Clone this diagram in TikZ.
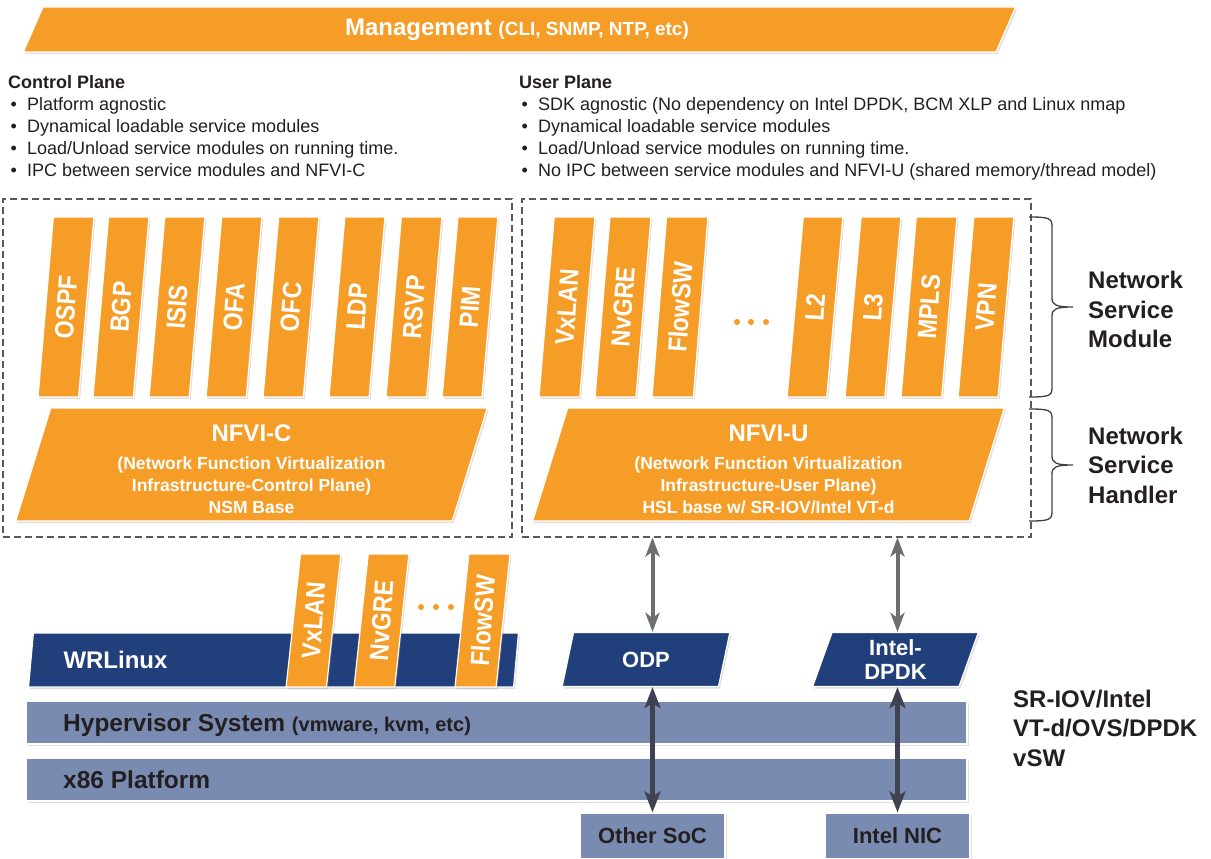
\documentclass[tikz,border=0pt]{standalone}
\usepackage{fontspec}
\setmainfont{Liberation Sans}
\newfontfamily\narrowsf[FakeStretch=0.88]{Liberation Sans}
\usetikzlibrary{shapes.geometric,arrows.meta,shadows}

\definecolor{nsorange}{RGB}{246,157,40}
\definecolor{nsnavy}{RGB}{33,63,122}
\definecolor{nsslate}{RGB}{122,139,178}
\definecolor{nsink}{RGB}{35,31,32}
\definecolor{arrowgrey}{RGB}{109,110,112}
\definecolor{arrowdark}{RGB}{64,66,82}

\newcommand\bul{\hspace*{2.5pt}\makebox[16.5pt][l]{•}}
\newcommand\uptext[1]{\raisebox{-.5\height}{\rotatebox{86}{#1}}}
\newcommand\nsbrace[2]{%
  \pgfmathsetmacro\bmid{(#1+#2)/2}
  \draw[bracepen] (1029,#1) .. controls (1048,#1) and (1052,#1+1) .. (1052,#1+9)
    -- (1052,\bmid-9) .. controls (1052,\bmid-2) and (1056,\bmid) .. (1073,\bmid)
    .. controls (1056,\bmid) and (1052,\bmid+2) .. (1052,\bmid+9)
    -- (1052,#2-9) .. controls (1052,#2-1) and (1048,#2) .. (1029,#2);
}

\tikzset{
  softshadow/.style={drop shadow={shadow xshift=1.5pt,shadow yshift=-2pt,opacity=.25}},
  slab/.style={trapezium, trapezium stretches=true, draw=white, line width=1.2pt,
    inner sep=0pt, text=white, font=\bfseries, softshadow},
  mgmtbar/.style={slab, fill=nsorange, trapezium left angle=71.6, trapezium right angle=108.4,
    minimum width=995pt, minimum height=45pt},
  svcmod/.style={slab, fill=nsorange, trapezium left angle=85.55, trapezium right angle=94.45,
    minimum width=56pt, text height=90pt, text depth=90pt,
    font=\narrowsf\bfseries\fontsize{26.5pt}{28pt}\selectfont},
  vswmod/.style={svcmod, trapezium left angle=84.4, trapezium right angle=95.6,
    minimum width=55pt, text height=66.5pt, text depth=66.5pt},
  nfvi/.style={slab, fill=nsorange, trapezium left angle=76.6, trapezium right angle=103.4,
    minimum width=472pt, minimum height=113pt, align=center,
    font=\bfseries\fontsize{17.5pt}{22pt}\selectfont},
  osbar/.style={slab, fill=nsnavy, trapezium left angle=76.5, trapezium right angle=103.5,
    minimum height=54pt, font=\bfseries\fontsize{22pt}{23.7pt}\selectfont},
  hwbar/.style={rectangle, fill=nsslate, draw=white, line width=1.2pt, inner sep=0pt,
    minimum width=941pt, minimum height=43pt, softshadow},
  hwbox/.style={hwbar, minimum width=145pt, minimum height=46pt, text=nsink,
    font=\bfseries\fontsize{22pt}{24pt}\selectfont},
  bartext/.style={anchor=base west, inner sep=0pt, text=nsink,
    font=\bfseries\fontsize{24.5pt}{26pt}\selectfont},
  planebox/.style={rectangle, draw=black!65, line width=1.1pt, dash pattern=on 7pt off 4pt,
    inner sep=0pt, minimum width=509pt, minimum height=338pt},
  notes/.style={anchor=north west, align=left, inner sep=0pt, text=nsink,
    font=\fontsize{18pt}{22pt}\selectfont},
  sidelabel/.style={anchor=north west, align=left, inner sep=0pt, text=nsink,
    font=\bfseries\fontsize{24pt}{29.5pt}\selectfont},
  bracepen/.style={draw=black!75, line width=1.3pt},
  linkup/.style={<->, >={Stealth[length=19pt,width=14pt,inset=5pt]}, line width=4pt, draw=arrowgrey},
  linkdown/.style={<->, >={Stealth[length=21pt,width=16pt,inset=5pt]}, line width=5pt, draw=arrowdark}
}

\begin{document}
\begin{tikzpicture}[x=1pt,y=-1pt]
  \useasboundingbox (0,0) rectangle (1211,859);

  % management
  \node[mgmtbar] (mgmt) at (519.5,29.5)
    {\fontsize{24pt}{26pt}\selectfont Management {\fontsize{19pt}{21pt}\selectfont(CLI, SNMP, NTP, etc)}\hspace*{5pt}};

  \node[notes] (ctrlnotes) at (8,75) {\textbf{Control Plane}\\
    \bul Platform agnostic\\
    \bul Dynamical loadable service modules\\
    \bul Load/Unload service modules on running time.\\
    \bul IPC between service modules and NFVI-C};
  \node[notes] (usernotes) at (519,75) {\textbf{User Plane}\\
    \bul SDK agnostic (No dependency on Intel DPDK, BCM XLP and Linux nmap\\
    \bul Dynamical loadable service modules\\
    \bul Load/Unload service modules on running time.\\
    \bul No IPC between service modules and NFVI-U (shared memory/thread model)};

  \node[planebox] (ctrlbox) at (257.5,368) {};
  \node[planebox] (userbox) at (776.5,368) {};

  % control plane
  \node[svcmod] (ospf) at (66,307)  {\uptext{OSPF}};
  \node[svcmod] (bgp)  at (121,307) {\uptext{BGP}};
  \node[svcmod] (isis) at (177,307) {\uptext{ISIS}};
  \node[svcmod] (ofa)  at (234,307) {\uptext{OFA}};
  \node[svcmod] (ofc)  at (291,307) {\uptext{OFC}};
  \node[svcmod] (ldp)  at (357,307) {\uptext{LDP}};
  \node[svcmod] (rsvp) at (414,307) {\uptext{RSVP}};
  \node[svcmod] (pim)  at (470,307) {\uptext{PIM}};
  \node[nfvi] (nfvic) at (251.5,464.5)
    {{\rule{0pt}{26pt}\fontsize{24pt}{26pt}\selectfont NFVI-C}\\[6pt]
     (Network Function Virtualization\\
     Infrastructure-Control Plane)\\
     NSM Base};

  % user plane
  \node[svcmod] (uvxlan)  at (567,307) {\uptext{VxLAN}};
  \node[svcmod] (unvgre)  at (623,307) {\uptext{NvGRE}};
  \node[svcmod] (uflowsw) at (680,307) {\uptext{FlowSW}};
  \fill[nsorange] (737,322) circle (3pt) (751,322) circle (3pt) (766,322) circle (3pt);
  \node[svcmod] (ltwo)   at (815,307) {\uptext{L2}};
  \node[svcmod] (lthree) at (873,307) {\uptext{L3}};
  \node[svcmod] (mpls)   at (929,307) {\uptext{MPLS}};
  \node[svcmod] (vpn)    at (986,307) {\uptext{VPN}};
  \node[nfvi] (nfviu) at (768.5,464.5)
    {{\rule{0pt}{26pt}\fontsize{24pt}{26pt}\selectfont NFVI-U}\\[6pt]
     (Network Function Virtualization\\
     Infrastructure-User Plane)\\
     HSL base w/ SR-IOV/Intel VT-d};

  \nsbrace{217}{397}
  \nsbrace{409}{521}
  \node[sidelabel] (nsm) at (1088,271) {Network\\Service\\Module};
  \node[sidelabel] (nsh) at (1088,426.5) {Network\\Service\\Handler};

  % os layer
  \node[osbar, minimum width=493pt, font=\bfseries\fontsize{24pt}{26pt}\selectfont] (wrl) at (273.5,660)
    {\makebox[420pt][l]{WRLinux}};
  \node[vswmod] (vxlan)  at (313.5,620.5) {\uptext{VxLAN}};
  \node[vswmod] (nvgre)  at (381.5,620.5) {\uptext{NvGRE}};
  \fill[nsorange] (421,607) circle (3pt) (436,607) circle (3pt) (451,607) circle (3pt);
  \node[vswmod] (flowsw) at (482.5,620.5) {\uptext{FlowSW}};
  \node[osbar, minimum width=168pt] (odp) at (646,659.5) {ODP};
  \node[osbar, minimum width=167pt, align=center] (dpdk) at (895.5,659.5) {Intel-\\DPDK};

  % hardware
  \node[hwbar] (hyper) at (496.5,722.5) {};
  \node[bartext] (hypertext) at (63,731.5)
    {Hypervisor System {\fontsize{20pt}{22pt}\selectfont(vmware, kvm, etc)}};
  \node[hwbar] (xeightysix) at (496.5,779.5) {};
  \node[bartext] (x86text) at (63,788) {x86 Platform};
  \node[hwbox] (soc) at (652.5,836) {Other SoC};
  \node[hwbox] (nic) at (897.5,836) {Intel NIC};
  \node[sidelabel] (vsw) at (1013,689.5) {SR-IOV/Intel\\VT-d/OVS/DPDK\\vSW};

  % links
  \draw[linkup] (soc.north |- userbox.south) -- (soc.north |- odp.north);
  \draw[linkup] (nic.north |- userbox.south) -- (nic.north |- dpdk.north);
  \draw[linkdown] (soc.north |- odp.south) -- (soc.north);
  \draw[linkdown] (nic.north |- dpdk.south) -- (nic.north);
\end{tikzpicture}
\end{document}
